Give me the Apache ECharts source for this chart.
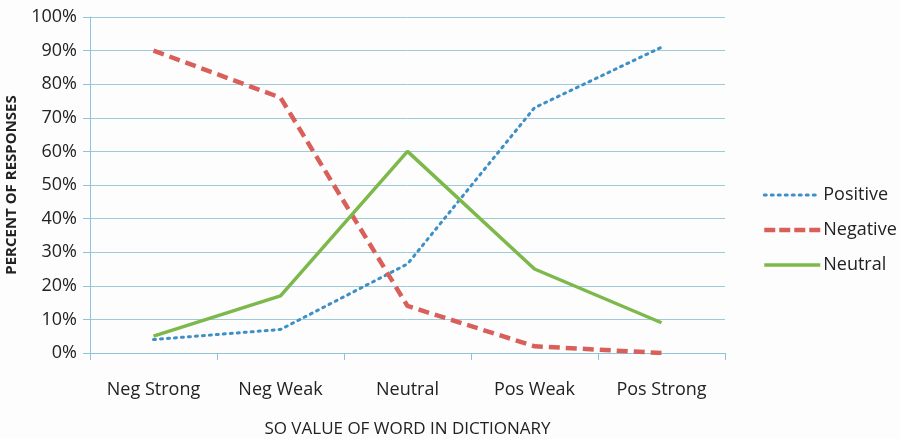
<!DOCTYPE html>
<html><head><meta charset="utf-8">
<script src="https://cdn.jsdelivr.net/npm/echarts@6/dist/echarts.min.js"></script>
<style>html,body{margin:0;padding:0;background:#fdfdfe}#c{width:900px;height:439px}</style>
</head><body><div id="c"></div>
<script>
const categories = ['Neg Strong', 'Neg Weak', 'Neutral', 'Pos Weak', 'Pos Strong'];
const positive = [4, 7, 26.5, 73, 91];
const negative = [90, 76, 14, 2, 0];
const neutral = [5, 17, 60, 25, 9];

const font = 'Open Sans';
const chart = echarts.init(document.getElementById('c'), null, {renderer: 'canvas'});
chart.setOption({
  backgroundColor: '#fdfdfe',
  animation: false,
  grid: {left: 90, right: 175, top: 17, bottom: 86, containLabel: false, outerBoundsMode: 'none'},
  legend: {
    orient: 'vertical', left: 757, top: 181, itemGap: 17, itemWidth: 56, itemHeight: 18,
    itemStyle: {opacity: 0},
    textStyle: {fontFamily: font, fontSize: 18, color: '#222', padding: [0, 0, 0, -2]},
    data: [
      {name: 'Positive', lineStyle: {width: 3, type: [2, 5], cap: 'round'}},
      {name: 'Negative', lineStyle: {width: 4.5, type: [11, 4]}},
      {name: 'Neutral', lineStyle: {width: 3.5}}
    ]
  },
  xAxis: {
    type: 'category', data: categories, boundaryGap: true,
    name: 'SO VALUE OF WORD IN DICTIONARY', nameLocation: 'middle', nameGap: 68,
    nameTextStyle: {fontFamily: font, fontSize: 17, color: '#222'},
    axisLine: {lineStyle: {color: '#8ec3da', width: 1}},
    axisTick: {show: true, length: 7, lineStyle: {color: '#8ec3da'}},
    axisLabel: {fontFamily: font, fontSize: 18, color: '#222', margin: 28}
  },
  yAxis: {
    type: 'value', min: 0, max: 100, interval: 10,
    name: 'PERCENT OF RESPONSES', nameLocation: 'middle', nameGap: 71, nameRotate: 90,
    nameTextStyle: {fontFamily: font, fontSize: 15, fontWeight: 'bold', color: '#222'},
    axisLine: {show: true, lineStyle: {color: '#8ec3da'}},
    axisTick: {show: true, length: 7, lineStyle: {color: '#8ec3da'}},
    axisLabel: {fontFamily: font, fontSize: 18, color: '#222', margin: 13, formatter: '{value}%'},
    splitLine: {lineStyle: {color: '#9ecadc', width: 1}}
  },
  series: [
    {name: 'Positive', type: 'line', data: positive, symbol: 'none',
     lineStyle: {color: '#3d8fc6', width: 3, type: [2, 5], cap: 'round'}, itemStyle: {color: '#3d8fc6'}},
    {name: 'Negative', type: 'line', data: negative, symbol: 'none',
     lineStyle: {color: '#d9605a', width: 4.5, type: [11, 6]}, itemStyle: {color: '#d9605a'}},
    {name: 'Neutral', type: 'line', data: neutral, symbol: 'none',
     lineStyle: {color: '#7cb84a', width: 3.5}, itemStyle: {color: '#7cb84a'}}
  ]
});
</script></body></html>
